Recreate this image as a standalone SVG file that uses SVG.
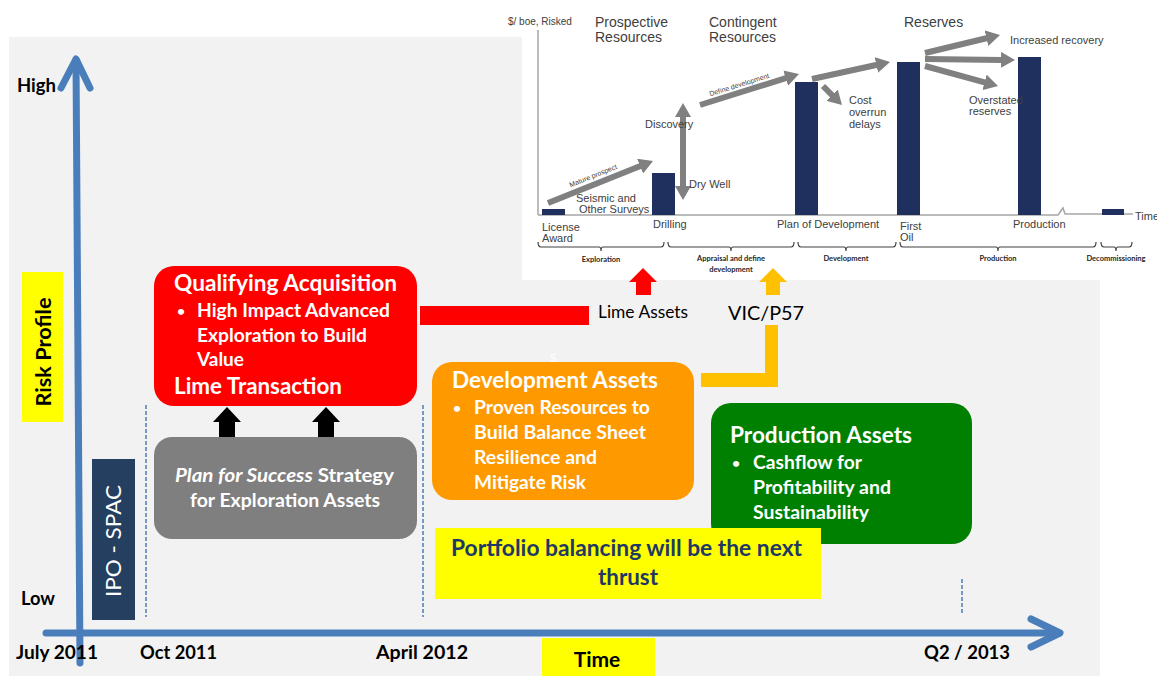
<svg xmlns="http://www.w3.org/2000/svg" width="1157" height="676" viewBox="0 0 1157 676">
<style>
.b{font-family:Lato,"Liberation Sans",sans-serif;font-weight:bold}
.wt{fill:#fff}
.ax{font-family:Lato,"Liberation Sans",sans-serif;font-weight:bold;font-size:18.5px;fill:#000}
.ch{font-family:"Liberation Sans",Arial,sans-serif;fill:#404040}
.brl{font-family:Lato,"Liberation Sans",sans-serif;font-weight:bold;font-size:7.5px;fill:#262626;text-anchor:middle}
.bar{fill:#1f305e}
.garr{stroke:#808080;stroke-width:6;fill:none;marker-end:url(#gh)}
.brace{stroke:#404040;stroke-width:1.2;fill:none}
.dash{stroke:#4a7ebb;stroke-width:1.5;stroke-dasharray:4 2}
.axis{stroke:#4a7ebb;stroke-width:7;fill:none;stroke-linecap:round;stroke-linejoin:round}
.t{font-size:22px}
.s{font-size:18.5px}
.bu{font-size:14px}
</style>
<defs>
<marker id="gh" viewBox="0 0 14 16" markerWidth="14" markerHeight="16" markerUnits="userSpaceOnUse" refX="1" refY="8" orient="auto-start-reverse">
<path d="M0,0 L14,8 L0,16 z" fill="#808080"/>
</marker>
</defs>
<rect x="0" y="0" width="1157" height="676" fill="#fff"/>
<rect x="9" y="37" width="1091" height="639" fill="#f2f2f2"/>

<!-- inset chart -->
<g id="lifecycle-chart">
<rect x="522" y="0" width="635" height="280" fill="#fff"/>
<text class="ch" x="508" y="25" font-size="10">$/ boe, Risked</text>
<line x1="538" y1="30" x2="538" y2="215" stroke="#a6a6a6" stroke-width="1.5"/>
<path d="M538,215 L1058,215 L1063,208 L1065,214 L1133,214" stroke="#a6a6a6" stroke-width="1.5" fill="none"/>
<text class="ch" x="595" y="27" font-size="14">Prospective</text>
<text class="ch" x="595" y="42" font-size="14">Resources</text>
<text class="ch" x="709" y="27" font-size="14">Contingent</text>
<text class="ch" x="709" y="42" font-size="14">Resources</text>
<text class="ch" x="904" y="27" font-size="14">Reserves</text>
<rect class="bar" x="542" y="209" width="23" height="6"/>
<rect class="bar" x="652" y="173" width="23" height="42"/>
<rect class="bar" x="795" y="82" width="23" height="133"/>
<rect class="bar" x="897" y="62" width="23" height="153"/>
<rect class="bar" x="1018" y="57" width="23" height="158"/>
<rect class="bar" x="1102" y="209" width="22" height="6"/>
<line class="garr" x1="548" y1="203" x2="641" y2="165.8"/>
<line class="garr" x1="683" y1="116" x2="683" y2="187" style="marker-start:url(#gh)"/>
<line class="garr" x1="700" y1="105" x2="786.6" y2="77.9"/>
<line class="garr" x1="812" y1="79" x2="877.3" y2="64.8"/>
<line class="garr" x1="823" y1="86" x2="832.8" y2="95.8"/>
<line class="garr" x1="925" y1="53" x2="987.4" y2="38"/>
<line class="garr" x1="925" y1="59" x2="1002" y2="59.9"/>
<line class="garr" x1="925" y1="66" x2="985.5" y2="82.6"/>
<text class="ch" font-size="7" text-anchor="middle" transform="translate(594,178) rotate(-21.8)">Mature prospect</text>
<text class="ch" font-size="7" text-anchor="middle" transform="translate(740,87) rotate(-17.4)">Define development</text>
<text class="ch" x="645" y="128" font-size="11">Discovery</text>
<text class="ch" x="689" y="188" font-size="11">Dry Well</text>
<text class="ch" x="576" y="202" font-size="11">Seismic and</text>
<text class="ch" x="579" y="213" font-size="11">Other Surveys</text>
<text class="ch" x="849" y="104" font-size="11">Cost</text>
<text class="ch" x="849" y="116" font-size="11">overrun</text>
<text class="ch" x="849" y="128" font-size="11">delays</text>
<text class="ch" x="1010" y="44" font-size="11">Increased recovery</text>
<text class="ch" x="969" y="104" font-size="11">Overstated</text>
<text class="ch" x="969" y="115" font-size="11">reserves</text>
<text class="ch" x="1135" y="220" font-size="11">Time</text>
<text class="ch" x="542" y="231" font-size="11">License</text>
<text class="ch" x="542" y="242" font-size="11">Award</text>
<text class="ch" x="653" y="228" font-size="11">Drilling</text>
<text class="ch" x="777" y="228" font-size="11">Plan of Development</text>
<text class="ch" x="900" y="230" font-size="11">First</text>
<text class="ch" x="900" y="241" font-size="11">Oil</text>
<text class="ch" x="1013" y="228" font-size="11">Production</text>
<path class="brace" d="M538,242 Q538,247 541,247 L599,247 Q601,247 601,251 Q601,247 603,247 L661,247 Q664,247 664,242"/>
<path class="brace" d="M668,242 Q668,247 671,247 L729,247 Q731,247 731,251 Q731,247 733,247 L791,247 Q794,247 794,242"/>
<path class="brace" d="M798,242 Q798,247 801,247 L844,247 Q846,247 846,251 Q846,247 848,247 L893,247 Q896,247 896,242"/>
<path class="brace" d="M900,242 Q900,247 903,247 L996,247 Q998,247 998,251 Q998,247 1000,247 L1093,247 Q1096,247 1096,242"/>
<path class="brace" d="M1101,242 Q1101,247 1104,247 L1114,247 Q1116,247 1116,251 Q1116,247 1118,247 L1129,247 Q1132,247 1132,242"/>
<text class="brl" x="601" y="262">Exploration</text>
<text class="brl" x="731" y="261">Appraisal and define</text>
<text class="brl" x="731" y="272">development</text>
<text class="brl" x="846" y="261">Development</text>
<text class="brl" x="998" y="261">Production</text>
<text class="brl" x="1116" y="261">Decommissioning</text>
</g>

<text x="550" y="362" font-family="Lato,sans-serif" font-size="12" fill="#fff">S</text>

<!-- connectors -->
<g id="connectors">
<line class="axis" x1="80" y1="663" x2="76" y2="60"/>
<polyline class="axis" points="61,88 76,59 90,88"/>
<line class="axis" x1="46" y1="633" x2="1059" y2="633"/>
<polyline class="axis" points="1031,619 1060,633 1031,647"/>
<line class="dash" x1="146" y1="405" x2="146" y2="617"/>
<line class="dash" x1="423" y1="405" x2="423" y2="617"/>
<line class="dash" x1="962" y1="579" x2="962" y2="614"/>
<polygon points="227,407 241,422 235,422 235,437 219,437 219,422 213,422" fill="#000"/>
<polygon points="326,407 340,422 334,422 334,437 318,437 318,422 312,422" fill="#000"/>
<rect x="420" y="306" width="169" height="19" fill="#ff0000"/>
<polygon points="643,268 657,282 651,282 651,295 636,295 636,282 629,282" fill="#ff0000"/>
<polygon points="773,268 787,282 780,282 780,295 766,295 766,282 759,282" fill="#ffc000"/>
<path d="M701,373 H778 V387 H701 z M765,325 H778 V387 H765 z" fill="#ffc000"/>
</g>

<!-- axis labels -->
<g id="axis-labels">
<text class="ax" x="17" y="92" textLength="39" lengthAdjust="spacingAndGlyphs">High</text>
<text class="ax" x="21" y="605" textLength="34" lengthAdjust="spacingAndGlyphs">Low</text>
<text class="ax" x="16" y="659" textLength="82" lengthAdjust="spacingAndGlyphs">July 2011</text>
<text class="ax" x="140" y="659" textLength="77" lengthAdjust="spacingAndGlyphs">Oct 2011</text>
<text class="ax" x="376" y="659" textLength="92" lengthAdjust="spacingAndGlyphs">April  2012</text>
<text class="ax" x="924" y="659" textLength="86" lengthAdjust="spacingAndGlyphs">Q2 / 2013</text>
<text x="598" y="318" font-family="Lato,sans-serif" font-size="17.5" fill="#000" textLength="90" lengthAdjust="spacingAndGlyphs">Lime Assets</text>
<text x="728" y="320" font-family="Lato,sans-serif" font-size="19" fill="#000" textLength="76" lengthAdjust="spacingAndGlyphs">VIC/P57</text>
</g>

<g id="time-label">
<rect x="542" y="638" width="113" height="38" fill="#ffff00"/>
<text class="b" x="597" y="667" font-size="21" text-anchor="middle" fill="#000">Time</text>
</g>

<g id="risk-profile">
<rect x="22" y="272" width="41" height="150" fill="#ffff00"/>
<text class="b" font-size="21" text-anchor="middle" fill="#000" textLength="109" lengthAdjust="spacingAndGlyphs" transform="translate(51,352) rotate(-90)">Risk Profile</text>
</g>

<g id="ipo-spac">
<rect x="92" y="459" width="43" height="161" fill="#243f60"/>
<text font-family="Lato,'Liberation Sans',sans-serif" font-size="21" fill="#fff" text-anchor="middle" textLength="112" lengthAdjust="spacingAndGlyphs" transform="translate(121,541) rotate(-90)">IPO  -  SPAC</text>
</g>

<g id="qualifying-acquisition">
<rect x="154" y="266" width="263" height="140" rx="20" fill="#ff0000"/>
<text class="b wt t" x="174" y="291" textLength="223" lengthAdjust="spacingAndGlyphs">Qualifying Acquisition</text>
<text class="b wt bu" x="177" y="316">•</text>
<text class="b wt s" x="197" y="317" textLength="193" lengthAdjust="spacingAndGlyphs">High Impact Advanced</text>
<text class="b wt s" x="197" y="342" textLength="170" lengthAdjust="spacingAndGlyphs">Exploration  to Build</text>
<text class="b wt s" x="197" y="366" textLength="47" lengthAdjust="spacingAndGlyphs">Value</text>
<text class="b wt t" x="174" y="394" textLength="168" lengthAdjust="spacingAndGlyphs">Lime Transaction</text>
</g>

<g id="plan-for-success">
<rect x="154" y="437" width="263" height="102" rx="18" fill="#7f7f7f"/>
<text class="b wt s" x="175" y="482" textLength="219" lengthAdjust="spacingAndGlyphs"><tspan font-style="italic">Plan for Success</tspan>  Strategy</text>
<text class="b wt s" x="190" y="507" textLength="190" lengthAdjust="spacingAndGlyphs">for Exploration  Assets</text>
</g>

<g id="development-assets">
<rect x="432" y="362" width="262" height="138" rx="20" fill="#ff9900"/>
<text class="b wt t" x="452" y="388" textLength="206" lengthAdjust="spacingAndGlyphs">Development Assets</text>
<text class="b wt bu" x="453" y="413">•</text>
<text class="b wt s" x="474" y="414" textLength="176" lengthAdjust="spacingAndGlyphs">Proven Resources to</text>
<text class="b wt s" x="474" y="439" textLength="172" lengthAdjust="spacingAndGlyphs">Build Balance Sheet</text>
<text class="b wt s" x="474" y="464" textLength="123" lengthAdjust="spacingAndGlyphs">Resilience and</text>
<text class="b wt s" x="474" y="489" textLength="112" lengthAdjust="spacingAndGlyphs">Mitigate Risk</text>
</g>

<g id="production-assets">
<rect x="711" y="403" width="261" height="141" rx="20" fill="#008000"/>
<text class="b wt t" x="730" y="443" textLength="182" lengthAdjust="spacingAndGlyphs">Production Assets</text>
<text class="b wt bu" x="732" y="468">•</text>
<text class="b wt s" x="753" y="469" textLength="109" lengthAdjust="spacingAndGlyphs">Cashflow for</text>
<text class="b wt s" x="753" y="494" textLength="138" lengthAdjust="spacingAndGlyphs">Profitability and</text>
<text class="b wt s" x="753" y="519" textLength="116" lengthAdjust="spacingAndGlyphs">Sustainability</text>
</g>

<g id="portfolio-note">
<rect x="435" y="528" width="386" height="71" fill="#ffff00"/>
<text class="b" x="451" y="556" font-size="22" fill="#1f3864" textLength="351" lengthAdjust="spacingAndGlyphs">Portfolio balancing will be the next</text>
<text class="b" x="598" y="585" font-size="22" fill="#1f3864" textLength="60" lengthAdjust="spacingAndGlyphs">thrust</text>
</g>
</svg>
